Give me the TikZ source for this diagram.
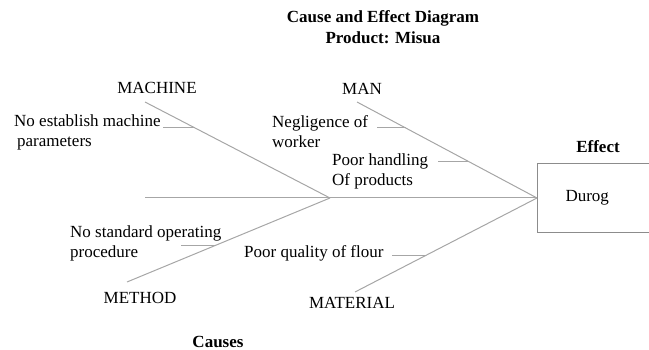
\documentclass[tikz,border=0pt]{standalone}
\usepackage{fontspec}
\setmainfont{Liberation Serif}
\usetikzlibrary{calc}
\tikzset{
  bone/.style={draw=black!35,line width=1pt},
  effectbox/.style={draw=black!45,line width=1pt,anchor=west,text width=80pt,
    align=left,inner xsep=28pt,minimum height=69pt,font=\fontsize{17}{20}\selectfont},
  categorylabel/.style={inner sep=0pt,font=\fontsize{17}{20}\selectfont},
  causetext/.style={inner sep=0pt,anchor=west,align=left,font=\fontsize{17}{20}\selectfont},
  headlabel/.style={inner sep=0pt,align=center,font=\bfseries\fontsize{17}{21}\selectfont}
}
\begin{document}
\begin{tikzpicture}[x=1pt,y=-1pt]
  \clip (0,0) rectangle (649,350);
  \node[headlabel] (title) at (383,27) {Cause and Effect Diagram\\Product: Misua};
  \node[headlabel] (effectlbl) at (598,147) {Effect};
  \node[headlabel] (causes) at (218,342) {Causes};
  \node[effectbox] (effect) at (537,198) {Durog};
  % spine and main bones
  \coordinate (tail) at (145,198);
  \coordinate (joint) at (330,198);
  \coordinate (machtop) at (145,102);
  \coordinate (mantop) at (357,102);
  \coordinate (methbot) at (127,282);
  \coordinate (matbot) at (355,292);
  \draw[bone] (tail) -- (effect.west);
  \draw[bone] (machtop) -- (joint);
  \draw[bone] (methbot) -- (joint);
  \draw[bone] (mantop) -- (effect.west);
  \draw[bone] (matbot) -- (effect.west);
  % category labels
  \node[categorylabel] (machine) at (157,88) {MACHINE};
  \node[categorylabel] (man) at (362,89) {MAN};
  \node[categorylabel] (method) at (140,298) {METHOD};
  \node[categorylabel] (material) at (352,303) {MATERIAL};
  % causes
  \node[causetext] (estab) at (14,132) {No establish machine\\\hspace*{3pt}parameters};
  \node[causetext] (neglect) at (272,132) {Negligence of\\worker};
  \node[causetext] (handling) at (332,171) {Poor handling\\Of products};
  \node[causetext] (sop) at (70,243) {No standard operating\\procedure};
  \node[causetext] (flour) at (244,253) {Poor quality of flour};
  % small bones
  \coordinate (machA) at ($(machtop)!0.27!(joint)$);
  \coordinate (manA) at ($(mantop)!0.27!(effect.west)$);
  \coordinate (manB) at ($(mantop)!0.615!(effect.west)$);
  \coordinate (methA) at ($(methbot)!0.44!(joint)$);
  \coordinate (matA) at ($(matbot)!0.383!(effect.west)$);
  \draw[bone] (machA) -- ++(-32,0);
  \draw[bone] (manA) -- ++(-29,0);
  \draw[bone] (manB) -- ++(-30,0);
  \draw[bone] (methA) -- ++(-35,0);
  \draw[bone] (matA) -- ++(-33,0);
\end{tikzpicture}
\end{document}
